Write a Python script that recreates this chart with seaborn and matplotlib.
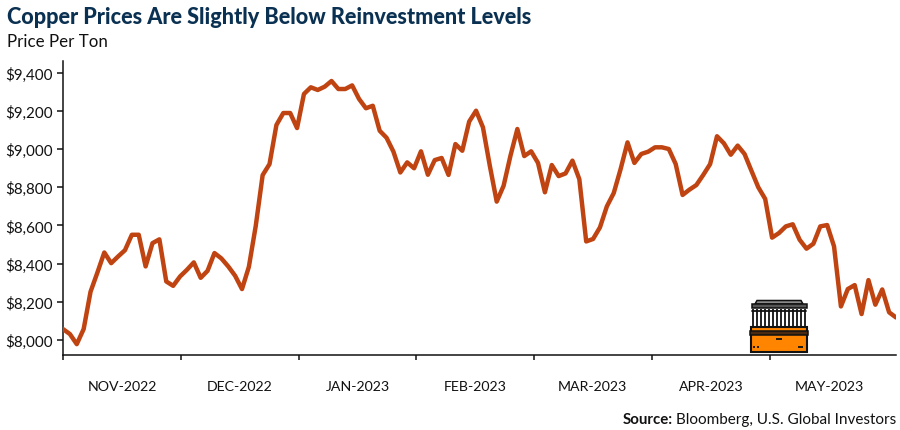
# Copper price chart
import matplotlib
matplotlib.use("Agg")
import matplotlib.pyplot as plt
from matplotlib.patches import Polygon, Rectangle
import pandas as pd
import seaborn as sns

# Prices, one per trading day
prices = [
    8056, 8030, 7977, 8056, 8252, 8353, 8458, 8402, 8437, 8470, 8551, 8551,
    8385, 8507, 8527, 8306, 8283, 8332, 8367, 8406, 8325, 8362, 8455, 8427,
    8385, 8336, 8266, 8383, 8598, 8864, 8922, 9127, 9190, 9190, 9111,
    9290, 9325, 9311, 9328, 9358, 9316, 9316, 9335, 9264, 9215, 9228, 9097,
    9060, 8987, 8878, 8931, 8900, 8989, 8866, 8943, 8954, 8865, 9027, 8992,
    9145, 9202, 9115, 8913, 8725, 8808, 8966, 9106, 8964, 8989, 8928, 8774,
    8917, 8859, 8873, 8940, 8843, 8516, 8529, 8590,
    8700, 8770, 8896, 9036, 8928, 8975, 8987, 9010, 9010, 9001, 8922, 8760,
    8788, 8812, 8865, 8922, 9068, 9031, 8971, 9019, 8975, 8887, 8800, 8739,
    8536, 8560, 8595, 8606, 8525, 8478, 8504, 8595, 8602, 8490, 8175, 8266,
    8287, 8135, 8313, 8184, 8264, 8144, 8117,
]
month_labels = ["NOV-2022", "DEC-2022", "JAN-2023", "FEB-2023", "MAR-2023", "APR-2023", "MAY-2023"]
month_starts = [0, 17.14, 34.28, 51.3, 68.4, 85.5, 102.7]
month_mids = [8.57, 25.71, 42.8, 59.85, 76.95, 94.1, 111.3]
y_ticks = [8000, 8200, 8400, 8600, 8800, 9000, 9200, 9400]

W, H = 900, 431
NAVY = "#0b3152"
RUST = "#bf4412"

df = pd.DataFrame({"day": range(len(prices)), "price": prices})

sns.set_style("ticks")
plt.rcParams["font.family"] = ["Lato", "DejaVu Sans"]

fig = plt.figure(figsize=(W / 100, H / 100), dpi=100)
ax = fig.add_axes([63 / W, 1 - 356 / H, (896 - 63) / W, (356 - 62) / H])

sns.lineplot(data=df, x="day", y="price", color=RUST, linewidth=3.2, ax=ax, zorder=3)
ax.lines[0].set_solid_joinstyle("round")

ax.set_xlim(0, len(prices) - 1)
ax.set_ylim(7920, 9463)
ax.set_xlabel("")
ax.set_ylabel("")
sns.despine(ax=ax)
for side in ["left", "bottom"]:
    ax.spines[side].set_linewidth(1.1)
    ax.spines[side].set_color("#111111")

ax.set_yticks(y_ticks)
ax.set_yticklabels([f"${v:,}" for v in y_ticks], fontsize=10.9, color="#111111")
ax.tick_params(axis="y", length=4, width=1.1, pad=3.5, color="#111111")

ax.set_xticks(month_starts)
ax.set_xticklabels([])
ax.tick_params(axis="x", length=3.5, width=1.1, color="#111111")
ax.set_xticks(month_mids, minor=True)
ax.set_xticklabels(month_labels, minor=True, fontsize=10.2, color="#111111")
ax.tick_params(axis="x", which="minor", length=0, pad=18)

# overlay in pixel coordinates for the header, source line and icon
ov = fig.add_axes([0, 0, 1, 1], zorder=5)
ov.set_xlim(0, W)
ov.set_ylim(H, 0)
ov.axis("off")
ov.patch.set_alpha(0)

ov.text(7, 17, "Copper Prices Are Slightly Below Reinvestment Levels",
        fontsize=15.6, fontweight="black", color=NAVY, va="center", ha="left")
ov.text(7, 42, "Price Per Ton", fontsize=12.2, color="#111111", va="center", ha="left")

src = ov.text(896, 420, "Bloomberg, U.S. Global Investors", fontsize=11,
              color="#111111", va="center", ha="right")
fig.canvas.draw()
src_left = src.get_window_extent().x0 * W / fig.bbox.width
ov.text(src_left - 3, 420, "Source:", fontsize=10.8, fontweight="bold",
        color="#111111", va="center", ha="right")

# stacked bars icon
edge = {"edgecolor": "#111111", "linewidth": 1.1}
ov.add_patch(Polygon([(755, 305), (757, 301.5), (801, 301.5), (803, 305)], facecolor="#8a8a8a", **edge))
ov.add_patch(Rectangle((751.5, 305), 55, 4, facecolor="#555555", **edge))
for cx in range(753, 807, 4):
    ov.plot([cx, cx], [310, 327], color="#111111", lw=1.3, solid_capstyle="butt")
ov.plot([752, 806], [311.5, 311.5], color="#111111", lw=1.3)
ov.add_patch(Rectangle((751, 328), 56, 24.5, facecolor="#ff8400", edgecolor="#111111", linewidth=1.5))
ov.add_patch(Rectangle((749.5, 332), 58.5, 4, facecolor="#4a2a10", **edge))
ov.plot([776, 782], [340, 340], color="#111111", lw=1.3, solid_capstyle="butt")
ov.plot([798, 803], [348, 348], color="#111111", lw=1.3, solid_capstyle="butt")
ov.plot([753, 755], [348, 348], color="#111111", lw=1.3, solid_capstyle="butt")
ov.plot([756.5, 758.5], [348, 348], color="#111111", lw=1.3, solid_capstyle="butt")

fig.savefig("out.png", dpi=100)
